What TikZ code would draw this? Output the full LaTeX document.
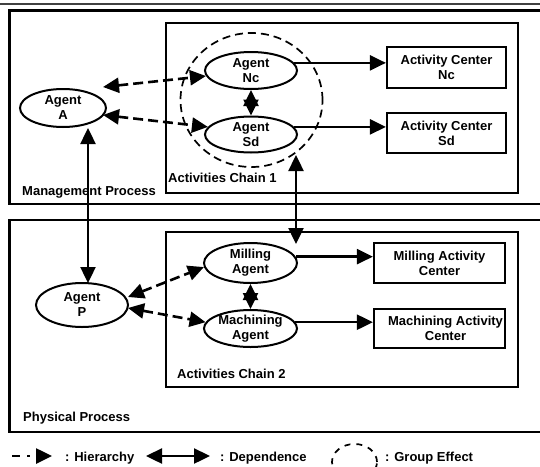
\documentclass[tikz,border=0pt]{standalone}
\usepackage{fontspec}
\setmainfont{Liberation Sans}
\usetikzlibrary{arrows.meta,shapes.geometric}

\begin{document}
\begin{tikzpicture}[x=1pt,y=-1pt,
  font=\fontsize{13}{15}\selectfont\bfseries,
  tip/.tip={Triangle[length=16pt,width=15pt]},
  agent/.style={draw,ellipse,line width=2pt,inner sep=0pt},
  acbox/.style={draw,rectangle,line width=2.2pt,inner sep=0pt},
  txt/.style={align=center,inner sep=0pt},
  lbl/.style={anchor=base west,inner sep=0pt},
  frame/.style={draw,line width=2.2pt},
  flow/.style={line width=2.4pt,-tip},
  hier/.style={line width=2.6pt,dash pattern=on 10pt off 5pt,tip-tip},
  dep/.style={line width=2.4pt,tip-tip},
  group/.style={draw,line width=1.7pt,dash pattern=on 8pt off 5pt}]

\useasboundingbox (0,0) rectangle (540,466);

% page rule and the two process frames (open on the right)
\draw[line width=2.2pt,black!75] (0,4) -- (540,4);
\draw[frame] (9.5,10.5) rectangle (560,204);
\draw[frame] (9.5,220) rectangle (560,432);
\node[lbl] (mgmt) at (22,195) {Management Process};
\node[lbl] (phys) at (23,421) {Physical Process};

% activity chains
\draw[frame] (166,23) rectangle (518,193);
\draw[frame] (166,232) rectangle (518,387);
\node[lbl] (ch1) at (168,182) {Activities Chain 1};
\node[lbl] (ch2) at (177,378) {Activities Chain 2};

% group effect
\node[group,ellipse,minimum width=142pt,minimum height=134pt,inner sep=0pt] (grp) at (251.5,100) {};

% agents
\node[agent,minimum width=86pt,minimum height=38pt] (A) at (63,108) {};
\node[txt] (At) at (A) {Agent\\A};
\node[agent,minimum width=92pt,minimum height=44pt] (P) at (82,305) {};
\node[txt] (Pt) at (P) {Agent\\P};
\node[agent,minimum width=92pt,minimum height=37pt] (nc) at (251,70.5) {};
\node[txt] (nct) at (nc) {Agent\\Nc};
\node[agent,minimum width=92pt,minimum height=36pt] (sd) at (251,134.5) {};
\node[txt] (sdt) at (sd) {Agent\\Sd};
\node[agent,minimum width=93pt,minimum height=40pt] (mill) at (250.5,263) {};
\node[txt] (millt) at (mill) {Milling\\Agent};
\node[agent,minimum width=93pt,minimum height=37pt] (mach) at (250.5,328.5) {};
\node[txt] (macht) at (mach) {Machining\\Agent};

% activity centers
\node[acbox,minimum width=119pt,minimum height=41pt] (acnc) at (446.5,67.5) {};
\node[txt] (acnct) at (acnc) {Activity Center\\Nc};
\node[acbox,minimum width=119pt,minimum height=40pt] (acsd) at (446.5,133) {};
\node[txt] (acsdt) at (acsd) {Activity Center\\Sd};
\node[acbox,minimum width=131pt,minimum height=40pt] (acmill) at (439.5,263) {};
\node[txt] (acmillt) at (acmill) {Milling Activity\\Center};
\node[acbox,minimum width=131pt,minimum height=39pt] (acmach) at (439.5,328.5) {};
\node[txt] (acmacht) at (445.5,328.5) {Machining Activity\\Center};

% free ends of connectors
\coordinate (A1) at (103,87);
\coordinate (A2) at (103,115);
\coordinate (P1) at (128,297);
\coordinate (P2) at (128,308);
\coordinate (Abot) at (88,128);
\coordinate (Ptop) at (88,283);
\coordinate (ch1b) at (296,155);
\coordinate (ch2t) at (296,244);

% agents to activity centers
\draw[flow] (nc.10) -- (nc.10 -| acnc.west);
\draw[flow] (sd.10) -- (sd.10 -| acsd.west);
\draw[flow] (mill.8) -- (mill.8 -| acmill.west);
\draw[flow] (mach.8) -- (mach.8 -| acmach.west);

% hierarchy
\draw[hier] (A1) -- (nc.187);
\draw[hier] (A2) -- (sd.170);
\draw[hier] (P1) -- (mill.185);
\draw[hier] (P2) -- (mach.172);

% dependence
\draw[dep] (nc.south) -- (sd.north);
\draw[dep] (mill.south) -- (mach.north);
\draw[dep] (Abot) -- (Ptop);
\draw[dep] (ch1b) -- (ch2t);

% legend
\coordinate (lh1) at (12,456);
\coordinate (lh2) at (52,456);
\draw[line width=2.6pt,dash pattern=on 8pt off 7pt on 2.5pt off 40pt,-tip] (lh1) -- (lh2);
\node[lbl] (lht) at (65,461) {: Hierarchy};
\coordinate (ld1) at (146,456);
\coordinate (ld2) at (210,456);
\draw[dep] (ld1) -- (ld2);
\node[lbl] (ldt) at (220,461) {: Dependence};
\coordinate (lg) at (354.5,462);
\draw[line width=1.7pt,dash pattern=on 6pt off 6pt] (lg) ellipse [x radius=22.5pt,y radius=18pt];
\node[lbl] (lgt) at (385,461) {: Group Effect};
\end{tikzpicture}
\end{document}
